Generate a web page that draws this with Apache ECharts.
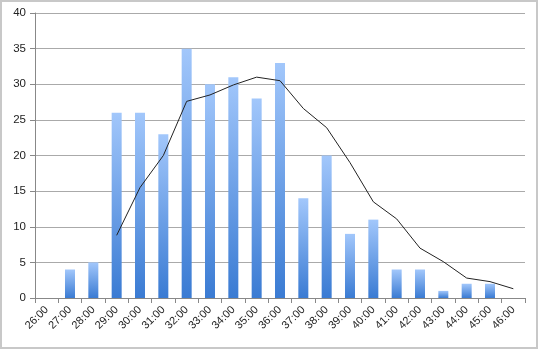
<!DOCTYPE html>
<html><head><meta charset="utf-8">
<script src="https://cdn.jsdelivr.net/npm/echarts@6/dist/echarts.min.js"></script>
<style>html,body{margin:0;padding:0;background:#fff}#c{width:539px;height:351px}</style>
</head><body><div id="c"></div>
<script>
const categories = ['26:00','27:00','28:00','29:00','30:00','31:00','32:00','33:00','34:00','35:00','36:00','37:00','38:00','39:00','40:00','41:00','42:00','43:00','44:00','45:00','46:00'];
const barValues = [0,4,5,26,26,23,35,30,31,28,33,14,20,9,11,4,4,1,2,2,0];
const lineValues = [null,null,null,8.8,15.5,20,27.6,28.5,29.9,31,30.5,26.6,23.9,19,13.5,11.1,7,5.1,2.8,2.3,1.3];
const yTicks = {min:0,max:40,interval:5};

const chart = echarts.init(document.getElementById('c'));
chart.setOption({
  animation:false,
  graphic:[{type:'rect',shape:{x:1,y:1,width:536,height:347},style:{fill:'none',stroke:'#c8c8c8',lineWidth:2},silent:true}],
  grid:{left:35,right:14,top:13,bottom:53},
  xAxis:{type:'category',data:categories,boundaryGap:true,
    axisLine:{lineStyle:{color:'#888'}},
    axisTick:{show:true,alignWithLabel:false,length:5,lineStyle:{color:'#888'}},
    axisLabel:{rotate:45,color:'#222',fontSize:11,fontFamily:'Liberation Sans, Arial',margin:10,interval:0}},
  yAxis:{type:'value',min:yTicks.min,max:yTicks.max,interval:yTicks.interval,
    axisLine:{show:true,lineStyle:{color:'#888'}},
    axisTick:{show:true,length:5,lineStyle:{color:'#888'}},
    splitLine:{lineStyle:{color:'#aaa',width:1}},
    axisLabel:{color:'#222',fontSize:11.5,fontFamily:'Liberation Sans, Arial',margin:9}},
  series:[
    {type:'bar',data:barValues,barWidth:10,
      itemStyle:{color:new echarts.graphic.LinearGradient(0,0,0,1,[{offset:0,color:'#a2c7fb'},{offset:1,color:'#3a7bd3'}])}},
    {type:'line',data:lineValues,symbol:'none',connectNulls:false,
      lineStyle:{color:'#222',width:1}}
  ]
});
</script></body></html>
